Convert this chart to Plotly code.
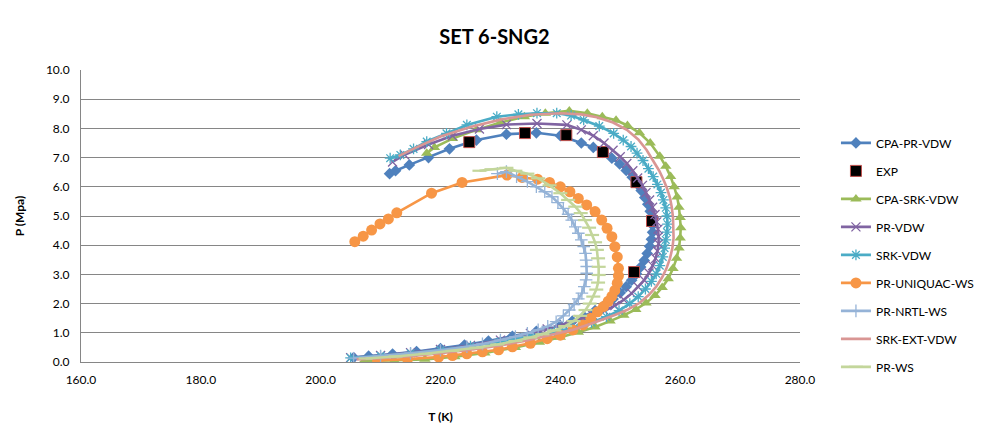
import plotly.graph_objects as go

# ---------------- data ----------------
CPA_PR_VDW_T = [211.5, 212.5, 214.8, 218.0, 221.5, 226.0, 231.0, 236.0, 240.0, 243.5, 245.5, 247.1, 248.6, 249.9,
                251.0, 252.0, 252.8, 253.5, 254.1, 254.6, 255.0, 255.3, 255.4, 255.4, 255.2, 254.9, 254.5, 254.0,
                253.4, 252.7, 251.9, 251.0, 250.0, 248.8, 247.4, 245.8, 243.9, 242.0, 240.0, 236.0, 232.0, 228.0,
                224.0, 220.0, 216.0, 212.0, 208.0, 205.5]
CPA_PR_VDW_P = [6.45, 6.55, 6.75, 7.0, 7.3, 7.6, 7.8, 7.85, 7.75, 7.5, 7.35, 7.18, 6.98, 6.78,
                6.56, 6.33, 6.1, 5.87, 5.63, 5.4, 5.16, 4.92, 4.68, 4.44, 4.2, 3.96, 3.72, 3.48,
                3.25, 3.02, 2.8, 2.58, 2.37, 2.16, 1.96, 1.76, 1.56, 1.4, 1.25, 1.05, 0.88, 0.72,
                0.58, 0.46, 0.36, 0.27, 0.2, 0.15]

EXP_T = [224.8, 234.1, 241.0, 247.1, 252.7, 255.3, 252.3]
EXP_P = [7.53, 7.84, 7.77, 7.19, 6.16, 4.83, 3.08]

CPA_SRK_VDW_T = [217.7, 219.0, 222.0, 226.0, 230.0, 234.0, 237.5, 241.5, 244.5, 247.0, 249.3, 251.2, 253.2, 255.0,
                 256.6, 257.6, 258.4, 259.0, 259.5, 259.8, 260.0, 260.1, 260.0, 259.8, 259.4, 258.8, 258.0, 257.0,
                 255.8, 254.3, 252.6, 250.6, 248.3, 245.8, 243.0, 240.0, 236.5, 232.5, 227.4, 222.4, 217.4, 212.3,
                 207.2]
CPA_SRK_VDW_P = [7.15, 7.35, 7.65, 7.95, 8.2, 8.4, 8.52, 8.6, 8.52, 8.4, 8.28, 8.1, 7.85, 7.5,
                 7.05, 6.7, 6.35, 6.0, 5.65, 5.3, 4.95, 4.6, 4.25, 3.9, 3.55, 3.2, 2.85, 2.55,
                 2.28, 2.02, 1.8, 1.6, 1.4, 1.2, 1.02, 0.85, 0.68, 0.5, 0.31, 0.18, 0.09, 0.05,
                 0.03]

PR_VDW_T = [212.0, 214.0, 218.0, 222.0, 226.5, 231.0, 236.1, 241.1, 243.5, 245.5, 247.3, 248.8, 250.0, 251.1,
            252.1, 252.9, 253.7, 254.3, 254.9, 255.4, 255.8, 256.1, 256.3, 256.4, 256.4, 256.2, 255.9, 255.4,
            254.8, 254.0, 253.0, 251.9, 250.6, 249.1, 247.4, 245.4, 243.1, 240.5, 237.8, 235.0, 230.0, 225.0,
            220.0, 215.0, 210.0, 205.0]
PR_VDW_P = [6.85, 7.1, 7.45, 7.75, 7.98, 8.13, 8.17, 8.12, 7.95, 7.75, 7.5, 7.25, 7.03, 6.8,
            6.55, 6.3, 6.05, 5.8, 5.55, 5.3, 5.05, 4.8, 4.55, 4.3, 4.05, 3.8, 3.55, 3.3,
            3.05, 2.8, 2.57, 2.35, 2.13, 1.93, 1.75, 1.6, 1.45, 1.28, 1.13, 0.98, 0.75, 0.57,
            0.43, 0.32, 0.22, 0.15]

SRK_VDW_T = [211.6, 213.3, 215.5, 217.7, 221.0, 224.4, 229.4, 233.0, 236.1, 239.4, 241.8, 243.9, 246.5, 248.9,
             250.5, 251.8, 252.8, 253.8, 254.7, 255.5, 256.2, 256.8, 257.2, 257.6, 257.8, 257.9, 257.8, 257.6,
             257.4, 257.1, 256.6, 256.0, 255.2, 254.2, 253.0, 251.6, 249.8, 247.7, 245.2, 242.3, 239.0, 235.0,
             230.0, 225.0, 220.0, 215.0, 210.0, 205.0]
SRK_VDW_P = [6.98, 7.09, 7.3, 7.55, 7.83, 8.12, 8.4, 8.48, 8.52, 8.52, 8.44, 8.29, 8.08, 7.83,
             7.6, 7.38, 7.15, 6.9, 6.62, 6.35, 6.08, 5.8, 5.55, 5.28, 5.0, 4.72, 4.45, 4.18,
             3.9, 3.6, 3.3, 3.02, 2.76, 2.5, 2.24, 2.0, 1.76, 1.55, 1.35, 1.18, 1.03, 0.88,
             0.7, 0.54, 0.41, 0.3, 0.21, 0.14]

PR_UNIQUAC_WS_T = [205.7, 207.1, 208.5, 209.9, 211.3, 212.7, 218.5, 223.6, 231.1, 233.6, 236.2, 238.2, 240.0, 241.6,
                   243.0, 244.4, 245.8, 246.9, 247.8, 248.6, 249.1, 249.5, 249.7, 249.7, 249.5, 249.1, 248.6, 248.0,
                   247.2, 246.2, 245.1, 243.8, 242.1, 240.0, 237.8, 235.0, 232.0, 229.7, 227.0, 224.4, 222.0, 219.7,
                   214.5, 209.5]
PR_UNIQUAC_WS_P = [4.12, 4.31, 4.52, 4.73, 4.9, 5.11, 5.78, 6.15, 6.4, 6.32, 6.26, 6.15, 6.0, 5.83,
                   5.6, 5.38, 5.15, 4.86, 4.58, 4.29, 3.95, 3.6, 3.21, 2.95, 2.7, 2.45, 2.25, 2.08,
                   1.9, 1.72, 1.5, 1.27, 1.1, 0.92, 0.8, 0.64, 0.52, 0.42, 0.35, 0.28, 0.22, 0.17,
                   0.1, 0.05]

PR_NRTL_WS_T = [229.5, 231.0, 232.7, 234.5, 236.0, 237.4, 238.6, 239.6, 240.5, 241.3, 241.9, 242.5, 243.0, 243.5,
                243.9, 244.2, 244.3, 244.4, 244.4, 244.3, 244.0, 243.6, 243.0, 242.3, 241.5, 240.5, 239.3, 237.9,
                236.3, 234.5, 232.5, 230.0, 227.0, 224.4, 220.0, 215.0, 210.0, 205.5]
PR_NRTL_WS_P = [6.45, 6.52, 6.35, 6.18, 6.0, 5.83, 5.66, 5.46, 5.26, 5.06, 4.86, 4.63, 4.41, 4.18,
                3.95, 3.72, 3.49, 3.27, 3.04, 2.81, 2.58, 2.36, 2.16, 1.97, 1.78, 1.58, 1.38, 1.22,
                1.1, 0.98, 0.87, 0.75, 0.62, 0.52, 0.4, 0.3, 0.2, 0.13]

SRK_EXT_VDW_T = [213.0, 216.0, 220.0, 225.0, 230.0, 235.0, 240.0, 243.5, 246.1, 248.8, 251.1, 253.0, 254.4, 255.5,
                 256.5, 257.2, 257.8, 258.3, 258.6, 258.8, 258.9, 258.9, 258.7, 258.3, 257.7, 257.0, 256.0, 254.8,
                 253.2, 251.1, 249.2, 247.5, 245.0, 242.0, 238.0, 234.0, 230.0, 225.0, 220.0, 215.0, 210.0, 206.0]
SRK_EXT_VDW_P = [7.05, 7.35, 7.72, 8.05, 8.3, 8.47, 8.52, 8.48, 8.38, 8.2, 7.95, 7.62, 7.26, 6.9,
                 6.55, 6.25, 5.95, 5.62, 5.3, 4.95, 4.6, 4.25, 3.9, 3.55, 3.2, 2.9, 2.58, 2.3,
                 2.02, 1.78, 1.62, 1.48, 1.3, 1.1, 0.9, 0.72, 0.57, 0.42, 0.3, 0.2, 0.13, 0.09]

PR_WS_T = [226.5, 228.5, 231.0, 232.5, 234.5, 236.3, 238.2, 240.0, 241.3, 242.5, 243.4, 244.1, 244.8, 245.3,
           245.8, 246.1, 246.3, 246.4, 246.4, 246.3, 246.0, 245.5, 244.9, 244.2, 243.3, 242.2, 240.8, 239.0,
           237.0, 235.0, 232.5, 229.5, 226.0, 222.0, 217.5, 212.5, 207.5]
PR_WS_P = [6.55, 6.6, 6.65, 6.55, 6.45, 6.29, 6.05, 5.78, 5.55, 5.32, 5.1, 4.86, 4.6, 4.35,
           4.1, 3.84, 3.55, 3.26, 2.98, 2.72, 2.48, 2.24, 2.0, 1.78, 1.58, 1.4, 1.23, 1.08,
           0.95, 0.84, 0.72, 0.6, 0.49, 0.38, 0.28, 0.19, 0.12]

X_TICKS = [160, 180, 200, 220, 240, 260, 280]
Y_TICKS = [0, 1, 2, 3, 4, 5, 6, 7, 8, 9, 10]

FONT = "Lato, 'Open Sans', sans-serif"

fig = go.Figure()


def add_line(name, xs, ys, color, symbol=None, msize=8, mline=0, mcolor=None):
    mode = "lines+markers" if symbol else "lines"
    marker = dict()
    if symbol:
        marker = dict(symbol=symbol, size=msize, color=mcolor or color,
                      line=dict(color=mcolor or color, width=mline))
    fig.add_trace(go.Scatter(x=xs, y=ys, name=name, mode=mode,
                             line=dict(color=color, width=2.6),
                             marker=marker, legendgroup=name))


add_line("CPA-PR-VDW", CPA_PR_VDW_T, CPA_PR_VDW_P, "#4F81BD", "diamond", 9)
fig.add_trace(go.Scatter(x=EXP_T, y=EXP_P, name="EXP", mode="markers",
                         marker=dict(symbol="square", size=11, color="#000000",
                                     line=dict(color="#C0504D", width=1)),
                         legendgroup="EXP"))
add_line("CPA-SRK-VDW", CPA_SRK_VDW_T, CPA_SRK_VDW_P, "#9BBB59", "triangle-up", 10)
add_line("PR-VDW", PR_VDW_T, PR_VDW_P, "#8064A2", "x-thin-open", 9, 1.3)
add_line("SRK-VDW", SRK_VDW_T, SRK_VDW_P, "#4BACC6", "asterisk-open", 9, 1.3)
add_line("PR-UNIQUAC-WS", PR_UNIQUAC_WS_T, PR_UNIQUAC_WS_P, "#F79646", "circle", 11)
add_line("PR-NRTL-WS", PR_NRTL_WS_T, PR_NRTL_WS_P, "#95B3D7", "cross-thin-open", 9, 1.3)
add_line("SRK-EXT-VDW", SRK_EXT_VDW_T, SRK_EXT_VDW_P, "#D99694")
add_line("PR-WS", PR_WS_T, PR_WS_P, "#C3D69B", "line-ew-open", 10, 2.2)

fig.update_layout(
    width=995, height=440,
    margin=dict(l=81, r=195, t=70, b=78),
    paper_bgcolor="white", plot_bgcolor="white",
    font=dict(family=FONT, size=12, color="#000000"),
    title=dict(text="<b>SET 6-SNG2</b>", x=0.497, xref="container", xanchor="center",
               y=0.915, yref="container", yanchor="middle",
               font=dict(family=FONT, size=20, color="#000000")),
    legend=dict(x=1.05, y=0.80, xanchor="left", yanchor="top",
                font=dict(family=FONT, size=12, color="#000000"),
                tracegroupgap=9, bgcolor="rgba(0,0,0,0)"),
    showlegend=True,
)

fig.update_xaxes(range=[160, 280], tickvals=X_TICKS, tickformat=".1f",
                 showgrid=False, zeroline=False, showline=True, linecolor="#868686", linewidth=1,
                 ticks="", ticklabelstandoff=7,
                 tickfont=dict(family=FONT, size=12, color="#000000"),
                 title=dict(text="<b>T (K)</b>", font=dict(family=FONT, size=12, color="#000000"),
                            standoff=26))
fig.update_yaxes(range=[0, 10], tickvals=Y_TICKS, tickformat=".1f",
                 showgrid=True, gridcolor="#868686", gridwidth=1, zeroline=False,
                 showline=True, linecolor="#868686", linewidth=1,
                 ticks="", ticklabelstandoff=8,
                 tickfont=dict(family=FONT, size=12, color="#000000"),
                 title=dict(text="<b>P (Mpa)</b>", font=dict(family=FONT, size=12, color="#000000"),
                            standoff=18))

fig.write_html("out.html")
